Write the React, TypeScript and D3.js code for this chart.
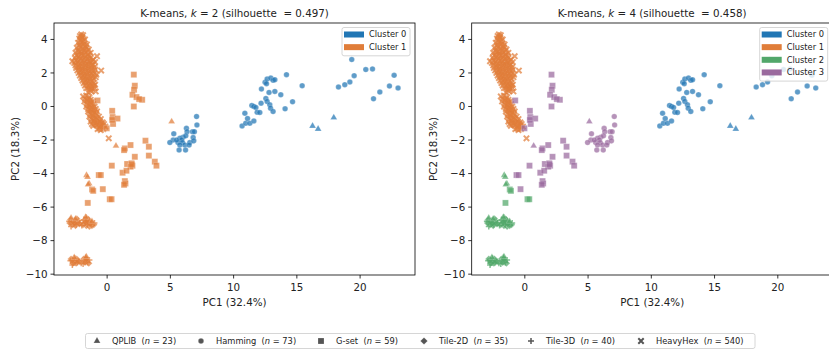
import * as d3 from "d3";

// ---- data (PC1, PC2, cluster for k=2, cluster for k=4) ----
const qplib: number[][] = [
  [5.1, -0.9, 1, 3], [0.7, -2.35, 1, 3], [-1.63, -4.1, 1, 2], [-1.55, -4.2, 1, 2],
  [-1.42, -4.6, 1, 2], [-1.5, -4.65, 1, 2], [16.24, -1.16, 0, 0], [16.68, -1.34, 0, 0],
  [17.92, -0.66, 0, 0], [-2.85, -6.65, 1, 2], [-1.7, -6.6, 1, 2], [-2.6, -9.0, 1, 2],
  [-1.65, -8.95, 1, 2], [-1.2, -6.85, 1, 2], [-2.5, -6.7, 1, 2],
];

const hamming: number[][] = [
  [7.07, -0.6, 0, 3], [7.1, -1.1, 0, 3], [5.27, -1.63, 0, 3], [6.27, -1.3, 0, 3],
  [6.32, -1.5, 0, 3], [6.75, -1.5, 0, 3], [6.9, -1.5, 0, 3], [6.0, -1.84, 0, 3],
  [5.75, -1.9, 0, 3], [5.88, -2.0, 0, 3], [6.8, -1.85, 0, 3], [6.22, -1.75, 0, 3],
  [5.22, -2.0, 0, 3], [4.96, -2.15, 0, 3], [5.6, -2.15, 0, 3], [5.96, -2.15, 0, 3],
  [6.54, -2.15, 0, 3], [6.85, -2.05, 0, 3], [6.14, -2.3, 0, 3], [5.75, -2.3, 0, 3],
  [6.48, -2.3, 0, 3], [5.69, -2.6, 0, 3], [6.2, -2.6, 0, 3], [5.49, -2.0, 0, 3],
  [10.67, -1.16, 0, 0], [10.96, -1.0, 0, 0], [11.1, -0.72, 0, 0], [11.28, -1.0, 0, 0],
  [11.6, -0.86, 0, 0], [10.89, -0.4, 0, 0], [11.44, 0.06, 0, 0], [11.6, 0.0, 0, 0],
  [11.76, -0.06, 0, 0], [11.86, -0.34, 0, 0], [12.07, -0.36, 0, 0], [12.17, 0.2, 0, 0],
  [12.55, 0.48, 0, 0], [12.65, 0.3, 0, 0], [12.86, 0.1, 0, 0], [12.92, -0.1, 0, 0],
  [13.12, -0.3, 0, 0], [12.8, 0.84, 0, 0], [13.26, 0.9, 0, 0], [12.2, 1.04, 0, 0],
  [12.49, 1.44, 0, 0], [12.65, 1.64, 0, 0], [12.94, 1.7, 0, 0], [13.12, 1.56, 0, 0],
  [13.26, 1.6, 0, 0], [12.6, 1.36, 0, 0], [13.73, 0.7, 0, 0], [14.18, 1.9, 0, 0],
  [14.66, 0.28, 0, 0], [14.07, -0.14, 0, 0], [15.42, 1.24, 0, 0],
  [19.34, 2.8, 0, 0], [20.45, 2.2, 0, 0], [20.98, 2.24, 0, 0], [19.53, 1.84, 0, 0],
  [19.19, 1.46, 0, 0], [18.79, 1.3, 0, 0], [18.29, 1.16, 0, 0], [22.69, 1.86, 0, 0],
  [22.32, 1.22, 0, 0], [23.0, 1.1, 0, 0], [21.56, 0.86, 0, 0], [21.06, 0.46, 0, 0],
];

const gset: number[][] = [
  [2.11, 1.9, 1, 3], [2.19, 1.24, 1, 3], [2.13, 1.0, 1, 3], [2.0, 0.7, 1, 3],
  [2.32, 0.56, 1, 3], [2.77, 0.4, 1, 3], [2.53, 0.44, 1, 3], [2.11, 0.0, 1, 3],
  [-0.76, 0.36, 1, 3], [0.4, -0.26, 1, 3], [0.43, -0.63, 1, 3], [0.82, -0.72, 1, 3],
  [0.47, -1.04, 1, 3], [-0.03, -1.3, 1, 3], [1.4, -2.5, 1, 3], [1.85, -2.3, 1, 3],
  [3.03, -2.04, 1, 3], [3.3, -2.4, 1, 3], [2.19, -3.0, 1, 3], [3.3, -2.93, 1, 3],
  [1.34, -2.6, 1, 3], [3.77, -3.29, 1, 3], [3.9, -3.53, 1, 3], [0.37, -3.53, 1, 3],
  [1.58, -3.43, 1, 3], [1.93, -3.39, 1, 3], [2.0, -3.53, 1, 3], [1.85, -3.59, 1, 3],
  [1.22, -3.95, 1, 3], [1.53, -3.83, 1, 3], [1.4, -4.45, 1, 3], [1.45, -4.59, 1, 3],
  [1.34, -4.67, 1, 3], [-0.66, -4.09, 1, 3], [-0.5, -4.09, 1, 3], [-0.34, -4.93, 1, 3],
  [-1.19, -4.95, 1, 2], [-1.1, -5.03, 1, 2], [-1.53, -5.75, 1, 2], [0.21, -5.53, 1, 2],
  [0.35, -5.53, 1, 2], [0.4, -0.8, 1, 3], [1.95, -3.45, 1, 3],
];

const tile2d: number[][] = [
  [-2.9, -6.75], [-2.6, -6.8], [-2.35, -6.9], [-2.75, -7.05], [-2.5, -7.1], [-2.2, -7.0],
  [-2.95, -6.95], [-2.4, -6.7], [-1.8, -6.8], [-1.55, -6.7], [-1.3, -6.9], [-1.05, -7.05],
  [-1.65, -7.1], [-1.4, -7.15], [-1.9, -7.05], [-1.2, -7.1], [-2.85, -9.1], [-2.6, -9.2],
  [-2.4, -9.1], [-2.7, -9.35], [-2.45, -9.35], [-1.85, -9.1], [-1.6, -9.2], [-1.45, -9.35],
  [-1.75, -9.3], [-2.2, -9.25], [-2.55, -6.95], [-1.5, -6.95], [-2.5, -9.25], [-2.7, -6.85],
  [-1.7, -6.9], [-2.75, -9.15], [-1.65, -9.1], [-2.3, -9.2], [-1.35, -7.0],
];

const tile3d: number[][] = [
  [-3.0, -6.85], [-2.7, -6.9], [-2.45, -7.05], [-2.85, -7.15], [-2.3, -6.8], [-1.7, -6.95],
  [-1.5, -6.85], [-1.25, -7.0], [-1.0, -6.95], [-1.55, -7.05], [-2.0, -7.1], [-1.65, -6.6],
  [-2.9, -9.2], [-2.55, -9.05], [-2.35, -9.3], [-2.75, -9.45], [-1.7, -9.0], [-1.55, -9.3],
  [-1.4, -9.15], [-2.05, -9.35], [-1.9, -9.4], [-2.6, -7.0], [-2.15, -6.95], [-1.85, -6.75],
  [-1.4, -6.8], [-2.65, -9.3], [-1.8, -9.2],
];

const heavyhex: number[][] = [
  [-2.05, 4.3], [-1.9, 4.25], [-2.15, 4.2], [-2.2, 4.05], [-1.95, 4.1], [-1.75, 4.0],
  [-2.3, 3.8], [-2.05, 3.85], [-1.8, 3.75], [-1.6, 3.7], [-2.4, 3.5], [-2.15, 3.55],
  [-1.9, 3.45], [-1.65, 3.5], [-1.45, 3.4], [-2.5, 3.2], [-2.25, 3.25], [-2.0, 3.15],
  [-1.75, 3.2], [-1.5, 3.1], [-1.3, 3.2], [-2.55, 2.9], [-2.3, 2.95], [-2.05, 2.85],
  [-1.8, 2.9], [-1.55, 2.85], [-1.3, 2.9], [-1.1, 2.8], [-2.6, 2.6], [-2.35, 2.65],
  [-2.1, 2.55], [-1.85, 2.6], [-1.6, 2.55], [-1.35, 2.6], [-1.1, 2.5], [-0.95, 2.65],
  [-2.45, 2.3], [-2.2, 2.35], [-1.95, 2.25], [-1.7, 2.3], [-1.45, 2.25], [-1.2, 2.3],
  [-0.95, 2.2], [-2.25, 2.0], [-2.0, 2.05], [-1.75, 1.95], [-1.5, 2.0], [-1.25, 1.95],
  [-1.0, 2.0], [-0.85, 1.9], [-2.05, 1.7], [-1.8, 1.75], [-1.55, 1.65], [-1.3, 1.7],
  [-1.05, 1.65], [-0.9, 1.75], [-1.85, 1.4], [-1.6, 1.45], [-1.35, 1.35], [-1.1, 1.4],
  [-0.95, 1.3], [-1.65, 1.1], [-1.4, 1.15], [-1.2, 1.05], [-1.0, 1.1], [-1.5, 0.85],
  [-1.25, 0.9], [-0.9, 0.9], [-0.47, 2.14], [-0.8, 3.0], [-2.75, 2.7], [0.13, -1.9],
  [-1.9, 0.6], [-1.65, 0.65], [-1.4, 0.55], [-1.8, 0.3], [-1.55, 0.35], [-1.3, 0.25],
  [-1.15, 0.3], [-1.65, 0.0], [-1.4, 0.05], [-1.2, -0.05], [-1.0, 0.0], [-1.5, -0.3],
  [-1.25, -0.25], [-1.0, -0.35], [-0.8, -0.3], [-1.4, -0.6], [-1.15, -0.55], [-0.9, -0.65],
  [-0.65, -0.6], [-1.3, -0.9], [-1.05, -0.85], [-0.8, -0.95], [-0.55, -0.9], [-0.35, -0.95],
  [-1.1, -1.15], [-0.85, -1.1], [-0.6, -1.2], [-0.35, -1.15], [-0.15, -1.2], [-0.75, -1.35],
  [-0.5, -1.4], [-0.3, -1.35],
  // in-between points of the dense band
  [-2.0, 4.15], [-2.1, 3.95], [-1.85, 3.9], [-2.2, 3.65], [-1.95, 3.65], [-1.7, 3.6],
  [-2.3, 3.35], [-2.05, 3.3], [-1.8, 3.35], [-1.55, 3.3], [-2.4, 3.05], [-2.15, 3.05],
  [-1.9, 3.05], [-1.65, 3.0], [-1.4, 3.0], [-2.45, 2.75], [-2.2, 2.75], [-1.95, 2.75],
  [-1.7, 2.7], [-1.45, 2.7], [-1.2, 2.7], [-2.5, 2.45], [-2.25, 2.45], [-2.0, 2.4],
  [-1.75, 2.45], [-1.5, 2.4], [-1.25, 2.45], [-1.0, 2.35], [-2.35, 2.15], [-2.1, 2.15],
  [-1.85, 2.1], [-1.6, 2.15], [-1.35, 2.1], [-1.1, 2.15], [-2.15, 1.85], [-1.9, 1.85],
  [-1.65, 1.8], [-1.4, 1.85], [-1.15, 1.8], [-1.95, 1.55], [-1.7, 1.55], [-1.45, 1.5],
  [-1.2, 1.55], [-1.75, 1.25], [-1.5, 1.25], [-1.25, 1.2], [-1.05, 1.25], [-1.35, 1.0],
  [-1.75, 0.45], [-1.5, 0.45], [-1.3, 0.4], [-1.6, 0.15], [-1.35, 0.15], [-1.1, 0.15],
  [-1.5, -0.15], [-1.3, -0.15], [-1.1, -0.2], [-0.9, -0.15], [-1.35, -0.45], [-1.1, -0.45],
  [-0.85, -0.45], [-1.25, -0.75], [-1.0, -0.75], [-0.75, -0.75], [-0.5, -0.75], [-1.2, -1.05],
  [-0.95, -1.0], [-0.7, -1.05], [-0.45, -1.05], [-0.25, -1.05], [-0.6, -1.3],
];

const datasetNames = ["QPLIB", "Hamming", "G-set", "Tile-2D", "Tile-3D", "HeavyHex"];
const datasetCounts = [23, 73, 59, 35, 40, 540];
const panelTitles = [
  { k: 2, sil: "0.497" },
  { k: 4, sil: "0.458" },
];
const clusterColors = ["#2176b4", "#e07d39", "#52a76a", "#9a6a9e"];
const xTicks = [0, 5, 10, 15, 20];
const yTicks = [4, 2, 0, -2, -4, -6, -8, -10];

type Pt = { x: number; y: number; set: number; c: number[] };

const tileC = [1, 2];
const hexC = [1, 1];
const points: Pt[] = [
  ...heavyhex.map((d) => ({ x: d[0], y: d[1], set: 5, c: hexC })),
  ...tile2d.map((d) => ({ x: d[0], y: d[1], set: 3, c: tileC })),
  ...tile3d.map((d) => ({ x: d[0], y: d[1], set: 4, c: tileC })),
  ...gset.map((d) => ({ x: d[0], y: d[1], set: 2, c: [d[2], d[3]] })),
  ...hamming.map((d) => ({ x: d[0], y: d[1], set: 1, c: [d[2], d[3]] })),
  ...qplib.map((d) => ({ x: d[0], y: d[1], set: 0, c: [d[2], d[3]] })),
];

const FONT = "DejaVu Sans, sans-serif";

function markerPath(set: number): string {
  switch (set) {
    case 0:
      return d3.symbol(d3.symbolTriangle, 20)()!;
    case 1:
      return d3.symbol(d3.symbolCircle, 24)()!;
    case 2:
      return d3.symbol(d3.symbolSquare, 36)()!;
    case 3:
      return "M0,-3.6L3.6,0L0,3.6L-3.6,0Z";
    case 4:
      return "M-3,0H3M0,-3V3";
    default:
      return "M-2.7,-2.7L2.7,2.7M-2.7,2.7L2.7,-2.7";
  }
}

function Marker({ set, color, x, y, op }: { set: number; color: string; x: number; y: number; op: number }) {
  const d = markerPath(set);
  if (set >= 4) {
    return (
      <path d={d} transform={`translate(${x},${y})`} stroke={color} strokeWidth={set === 5 ? 2 : 1.5}
        fill="none" opacity={op} />
    );
  }
  return (
    <path d={d} transform={`translate(${x},${y})`} fill={color} fillOpacity={op}
      stroke="#fff" strokeOpacity={0.5} strokeWidth={0.4} />
  );
}

function Panel({ idx, left }: { idx: number; left: number }) {
  const top = 23, w = 361, h = 252;
  const x = d3.scaleLinear().domain([-4.2, 24.34]).range([left, left + w]);
  const y = d3.scaleLinear().domain([-10.05, 4.98]).range([top + h, top]);
  const fmt = (v: number) => (v < 0 ? "\u2212" + Math.abs(v) : String(v));
  const info = panelTitles[idx];
  const nLeg = info.k;
  const legW = 68, legX = left + w - 5 - legW, legY = 27.5;
  return (
    <g fontFamily={FONT}>
      {points.map((p, i) => (
        <Marker key={i} set={p.set} color={clusterColors[p.c[idx]]} x={x(p.x)} y={y(p.y)} op={0.72} />
      ))}
      <rect x={left} y={top} width={w} height={h} fill="none" stroke="#000" strokeWidth={0.8} />
      {xTicks.map((t) => (
        <g key={t}>
          <line x1={x(t)} x2={x(t)} y1={top + h} y2={top + h + 3.5} stroke="#000" strokeWidth={0.8} />
          <text x={x(t)} y={top + h + 16} textAnchor="middle" fontSize={10.3} fill="#222">{fmt(t)}</text>
        </g>
      ))}
      {yTicks.map((t) => (
        <g key={t}>
          <line x1={left - 3.5} x2={left} y1={y(t)} y2={y(t)} stroke="#000" strokeWidth={0.8} />
          <text x={left - 6.5} y={y(t)} dy="0.36em" textAnchor="end" fontSize={10.3} fill="#222">{fmt(t)}</text>
        </g>
      ))}
      <text x={left + w / 2} y={305.5} textAnchor="middle" fontSize={10.3} fill="#222">PC1 (32.4%)</text>
      <text transform={`translate(${left - 35},${top + h / 2}) rotate(-90)`} textAnchor="middle"
        fontSize={10.3} fill="#222">PC2 (18.3%)</text>
      <text x={left + w / 2} y={17} textAnchor="middle" fontSize={10.3} fill="#222" style={{ whiteSpace: "pre" }}>
        K-means, <tspan fontStyle="italic">k</tspan> = {info.k} (silhouette  = {info.sil})
      </text>
      <rect x={legX} y={legY} width={legW} height={nLeg * 12.65 + 3} rx={2} fill="#fff" fillOpacity={0.8}
        stroke="#cccccc" strokeWidth={0.8} />
      {d3.range(nLeg).map((c) => (
        <g key={c}>
          <rect x={legX + 2} y={legY + 4 + c * 12.65} width={20} height={6} fill={clusterColors[c]} />
          <text x={legX + 27} y={legY + 7 + c * 12.65} dy="0.35em" fontSize={8.3} fill="#222">Cluster {c}</text>
        </g>
      ))}
    </g>
  );
}

export default function App() {
  const legMarkers = [97, 201, 321, 424, 531, 641];
  return (
    <svg width={829} height={349} style={{ position: "absolute", left: 0, top: 0, background: "#fff" }}>
      <rect width={829} height={349} fill="#fff" />
      <Panel idx={0} left={54} />
      <Panel idx={1} left={471.7} />
      <g fontFamily={FONT}>
        <rect x={85.5} y={333.5} width={669.5} height={15} rx={2} fill="#fff" stroke="#cccccc" strokeWidth={0.8} />
        {datasetNames.map((name, i) => (
          <g key={name}>
            <Marker set={i} color="#555" x={legMarkers[i]} y={341} op={1} />
            <text x={legMarkers[i] + 15} y={341} dy="0.35em" fontSize={8.3} fill="#222" style={{ whiteSpace: "pre" }}>
              {name}  (<tspan fontStyle="italic">n</tspan> = {datasetCounts[i]})
            </text>
          </g>
        ))}
      </g>
    </svg>
  );
}
